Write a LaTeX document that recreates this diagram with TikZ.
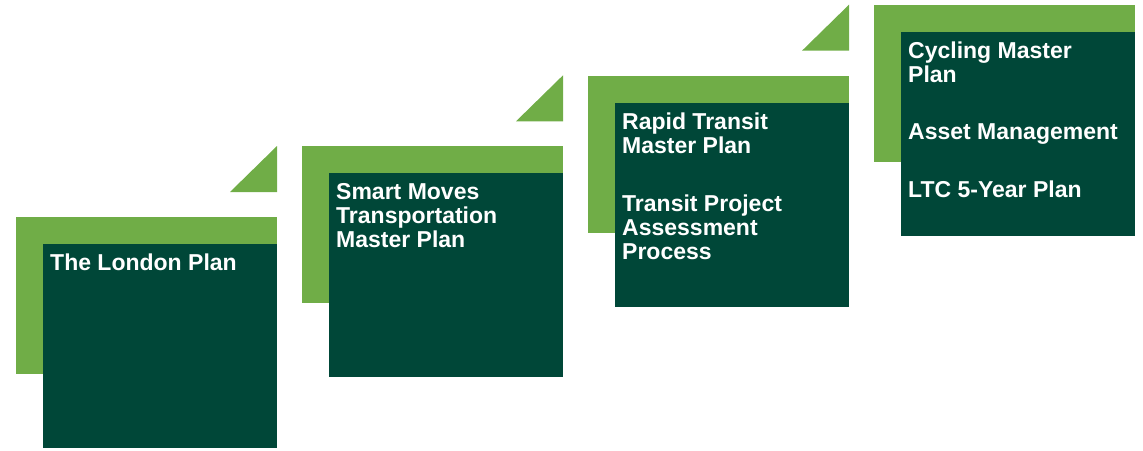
\documentclass[tikz,border=0pt]{standalone}
\usepackage{fontspec}
\setmainfont{Liberation Sans}
\definecolor{verdechiaro}{HTML}{70AD47}
\definecolor{verdescuro}{HTML}{004738}
\begin{document}
\begin{tikzpicture}[x=1pt, y=-1pt,
    sfondo/.style={fill=verdechiaro, inner sep=0, minimum width=261pt, minimum height=157pt},
    scatola/.style={fill=verdescuro, inner sep=0, minimum width=234pt, minimum height=204pt},
    testo/.style={anchor=north west, inner sep=0, align=left, text=white, font=\bfseries\fontsize{23}{24}\selectfont}]
    \useasboundingbox (0,0) rectangle (1143,450);

    % Sfondi chiari
    \node[sfondo] (sfondo_london) at (146.5,295.5) {};
    \node[sfondo] (sfondo_smart) at (432.5,224.8) {};
    \node[sfondo] (sfondo_rapid) at (718.5,154.2) {};
    \node[sfondo] (sfondo_cycling) at (1004.5,83.5) {};

    % Triangoli tra i gradini
    \fill[verdechiaro] (230,192) -- (277,192) -- (277,146) -- cycle;
    \fill[verdechiaro] (516,121.3) -- (563,121.3) -- (563,75.3) -- cycle;
    \fill[verdechiaro] (802,50.7) -- (849,50.7) -- (849,4.7) -- cycle;

    % Scatole scure
    \node[scatola] (box_london) at (160,346) {};
    \node[scatola] (box_smart) at (446,275.3) {};
    \node[scatola] (box_rapid) at (732,204.7) {};
    \node[scatola] (box_cycling) at (1018,134) {};

    % Testi
    \node[testo] (txt_london) at (50,254) {The London Plan};
    \node[testo] (txt_smart) at (336,183.3) {Smart Moves\\Transportation\\Master Plan};
    \node[testo] (txt_rapid) at (622,112.7) {Rapid Transit\\Master Plan\\[34pt]Transit Project\\Assessment\\Process};
    \node[testo] (txt_cycling) at (908,42) {Cycling Master\\Plan\\[33pt]Asset Management\\[34pt]LTC 5-Year Plan};
\end{tikzpicture}
\end{document}
